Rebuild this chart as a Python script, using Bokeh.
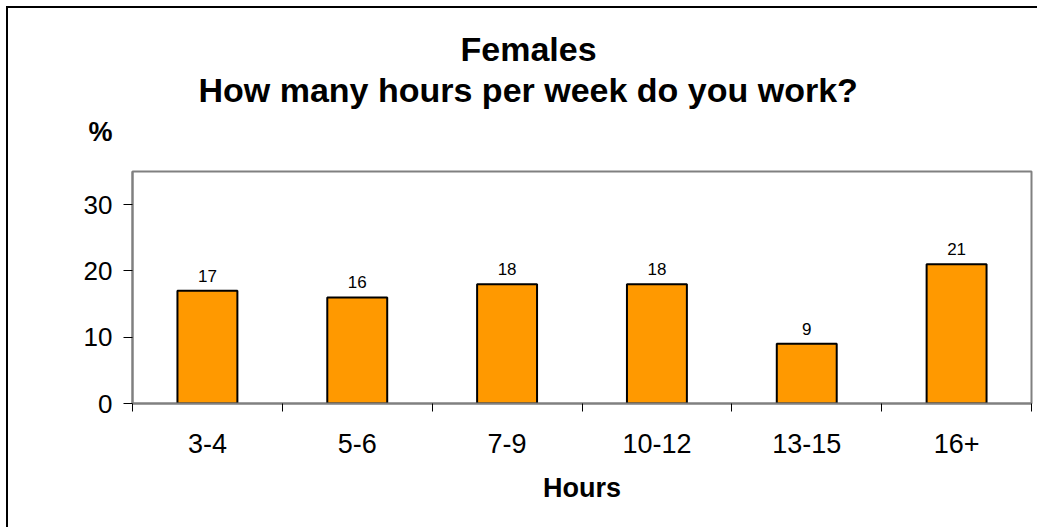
from bokeh.plotting import figure
from bokeh.models import Range1d, FixedTicker, Title, ColumnDataSource
from bokeh.embed import file_html
from bokeh.resources import INLINE

# ---- data ----
categories = ["3-4", "5-6", "7-9", "10-12", "13-15", "16+"]
values = [17, 16, 18, 18, 9, 21]
y_ticks = [0, 10, 20, 30]
title_line1 = "Females"
title_line2 = "How many hours per week do you work?"
y_label = "%"
x_label = "Hours"

FONT = "Liberation Sans"

positions = list(range(len(categories)))
src = ColumnDataSource(dict(x=positions, top=values, lbl=[str(v) for v in values]))

p = figure(width=1031, height=521, output_backend="svg", toolbar_location=None,
           x_range=Range1d(-0.5, len(categories) - 0.5), y_range=Range1d(0, 35),
           min_border_left=124, min_border_top=163, min_border_bottom=126, min_border_right=8)
p.styles = {"border-left": "2px solid black", "border-top": "2px solid black",
            "margin-left": "6px", "margin-top": "6px"}

p.background_fill_color = "white"
p.border_fill_color = "white"
p.outline_line_color = "#808080"
p.outline_line_width = 2
p.xgrid.visible = False
p.ygrid.visible = False

p.vbar(x="x", top="top", width=0.4, bottom=0, source=src,
       fill_color="#FF9900", line_color="black", line_width=2)
p.text(x="x", y="top", text="lbl", source=src, y_offset=-15,
       text_align="center", text_baseline="alphabetic",
       text_font_size="17px", text_font={"value": FONT}, text_color="black")

# y axis
ya = p.yaxis[0]
ya.ticker = FixedTicker(ticks=y_ticks)
ya.axis_line_color = "#808080"
ya.axis_line_width = 2
ya.major_tick_out = 9
ya.major_tick_in = 0
ya.major_tick_line_color = "black"
ya.minor_tick_line_color = None
ya.major_label_standoff = 11
ya.major_label_text_font = FONT
ya.major_label_text_font_size = "26px"
ya.major_label_text_color = "black"

# x axis
xa = p.xaxis[0]
xa.ticker = FixedTicker(ticks=positions, minor_ticks=[i - 0.5 for i in range(len(categories) + 1)])
xa.major_label_overrides = {i: c for i, c in zip(positions, categories)}
xa.axis_line_color = "#808080"
xa.axis_line_width = 2
xa.major_tick_line_color = None
xa.major_tick_out = 0
xa.major_tick_in = 0
xa.minor_tick_out = 8
xa.minor_tick_in = 0
xa.minor_tick_line_color = "black"
xa.major_label_standoff = 22
xa.major_label_text_font = FONT
xa.major_label_text_font_size = "27px"
xa.major_label_text_color = "black"
xa.axis_label = x_label
xa.axis_label_text_font = FONT
xa.axis_label_text_font_size = "27px"
xa.axis_label_text_font_style = "bold"
xa.axis_label_text_color = "black"
xa.axis_label_standoff = 17


def make_title(text, size, offset, standoff, valign):
    t = Title(text=text, align="left", offset=offset, vertical_align=valign,
              text_font=FONT, text_font_size=size, text_font_style="bold",
              text_color="black")
    try:
        t.standoff = standoff
    except Exception:
        t.standoff = 0
    return t

# stacked from the frame outward
p.add_layout(make_title(y_label, "27px", -44, 50, "bottom"), "above")
p.add_layout(make_title(title_line2, "34px", 66, -38, "bottom"), "above")
p.add_layout(make_title(title_line1, "34px", 328, 36, "top"), "above")

open("out.html", "w").write(file_html(p, INLINE))
